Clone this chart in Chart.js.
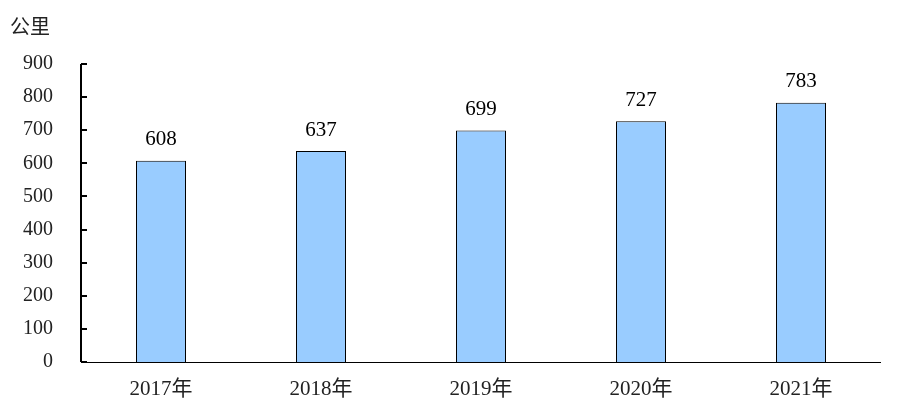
<!DOCTYPE html>
<html><head><meta charset="utf-8">
<script src="https://cdn.jsdelivr.net/npm/chart.js@4/dist/chart.umd.min.js"></script>
<style>html,body{margin:0;padding:0;background:#fff}#wrap{width:897px;height:408px;position:relative}</style>
</head><body><div id="wrap"><canvas id="c" width="897" height="408"></canvas></div>
<script>
const categories = ["2017年","2018年","2019年","2020年","2021年"];
const values = [608, 637, 699, 727, 783];
const yTicks = [0,100,200,300,400,500,600,700,800,900];
const unitLabel = "公里";
const FONT = "'Liberation Serif','Noto Sans CJK SC',serif";

const deco = {
  id: 'deco',
  afterDraw(chart) {
    const ctx = chart.ctx, y = chart.scales.y;
    const left = chart.chartArea.left;
    ctx.save();
    ctx.strokeStyle = '#000'; ctx.lineWidth = 2;
    ctx.beginPath();
    ctx.moveTo(left, y.getPixelForValue(900)); ctx.lineTo(left, y.getPixelForValue(0));
    yTicks.forEach(v => { const p = Math.round(y.getPixelForValue(v)); ctx.moveTo(left, p); ctx.lineTo(left + 6, p); });
    ctx.stroke();
    ctx.lineWidth = 1;
    ctx.beginPath();
    const by = Math.round(y.getPixelForValue(0)) + 0.5;
    ctx.moveTo(left, by); ctx.lineTo(chart.chartArea.right, by); ctx.stroke();
    ctx.fillStyle = '#000';
    ctx.font = "21px " + FONT;
    ctx.textAlign = 'center'; ctx.textBaseline = 'middle';
    chart.getDatasetMeta(0).data.forEach((bar, i) => {
      ctx.fillText(String(values[i]), bar.x, bar.y - 21);
    });
    ctx.fillStyle = '#222';
    ctx.font = "20px 'Noto Sans CJK SC',serif";
    ctx.textAlign = 'left';
    ctx.fillText(unitLabel, 10, 26);
    ctx.restore();
  }
};

new Chart(document.getElementById('c'), {
  type: 'bar',
  data: { labels: categories, datasets: [{ data: values, backgroundColor: '#99CCFF', borderColor: '#000', borderWidth: 1, categoryPercentage: 1, barPercentage: 0.3125 }] },
  options: {
    responsive: false, animation: false,
    layout: { padding: { top: 64, right: 16, left: 0, bottom: 0 } },
    plugins: { legend: { display: false }, tooltip: { enabled: false } },
    scales: {
      x: {
        grid: { display: false, drawTicks: false },
        border: { display: false },
        ticks: { color: '#222', font: { family: FONT, size: 21 }, padding: 15 },
        afterFit(s) { s.height = 46; }
      },
      y: {
        min: 0, max: 900,
        afterBuildTicks(s) { s.ticks = yTicks.map(v => ({ value: v })); },
        grid: { display: false, drawTicks: false },
        border: { display: false },
        ticks: { color: '#222', font: { family: FONT, size: 20 }, padding: 28 },
        afterFit(s) { s.width = 81; }
      }
    }
  },
  plugins: [deco]
});
</script></body></html>
